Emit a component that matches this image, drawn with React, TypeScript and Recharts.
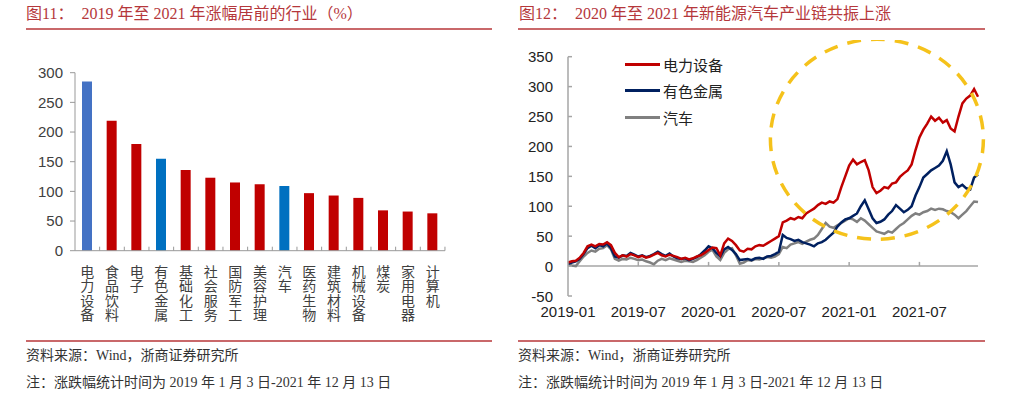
import React from "react";
import {
	Bar,
	BarChart,
	Cell,
	Legend,
	Line,
	LineChart,
	ReferenceDot,
	ReferenceLine,
	XAxis,
	YAxis,
} from "recharts";

// left panel: gain 2019-2021 by industry (%)
const industries = [
	"电力设备", "食品饮料", "电子", "有色金属", "基础化工", "社会服务", "国防军工", "美容护理",
	"汽车", "医药生物", "建筑材料", "机械设备", "煤炭", "家用电器", "计算机",
];
const industryGains = [285, 219, 180, 155, 136, 123, 115, 112, 109, 97, 93, 89, 68, 66, 63];
const barTicks = [0, 50, 100, 150, 200, 250, 300];

// right panel: cumulative gain, ~3 samples per month from 2019-01
const seriesNames = ["电力设备", "有色金属", "汽车"];
const powerEquip = [
	6, 8, 9, 14, 22, 33, 36, 33, 37, 36, 40, 35,
	22, 15, 18, 16, 20, 18, 15, 17, 14, 16, 19, 22,
	18, 16, 19, 17, 15, 12, 14, 11, 13, 16, 18, 22,
	27, 31, 30, 18, 38, 46, 42, 35, 26, 24, 29, 28,
	33, 35, 34, 38, 42, 46, 50, 73, 76, 80, 78, 82,
	80, 88, 92, 96, 102, 106, 104, 108, 106, 112, 132, 150,
	168, 178, 170, 174, 177, 160, 132, 122, 126, 132, 130, 138,
	140, 149, 155, 160, 170, 194, 215, 228, 238, 250, 243, 248,
	240, 244, 230, 225, 250, 272, 280, 285, 296, 283,
];
const nonferrous = [
	4, 6, 8, 12, 20, 30, 34, 30, 35, 33, 38, 30,
	16, 14, 18, 17, 22, 19, 16, 18, 15, 17, 20, 24,
	20, 17, 21, 16, 13, 12, 13, 10, 12, 15, 20, 26,
	33, 30, 22, 16, 28, 32, 27, 20, 10, 11, 12, 10,
	13, 14, 12, 16, 17, 20, 24, 52, 47, 45, 42, 44,
	40, 38, 36, 33, 38, 40, 44, 50, 56, 66, 73, 78,
	80, 84, 88, 100, 110, 95, 80, 72, 74, 78, 86, 92,
	102, 96, 90, 94, 100, 118, 132, 148, 154, 160, 164, 168,
	176, 192, 170, 140, 132, 136, 130, 128, 148, 153,
];
const autos = [
	3, 1, 0, 8, 16, 22, 26, 24, 29, 30, 35, 28,
	12, 9, 12, 11, 14, 12, 10, 11, 8, 6, 3, 9,
	12, 10, 13, 11, 9, 7, 9, 8, 7, 10, 14, 18,
	24, 27, 16, 10, 22, 28, 30, 18, 4, 6, 10, 9,
	12, 11, 13, 15, 14, 16, 20, 32, 30, 36, 38, 40,
	37, 41, 44, 46, 52, 62, 72, 66, 64, 68, 72, 76,
	80, 78, 74, 80, 76, 70, 64, 58, 56, 54, 58, 56,
	62, 68, 72, 78, 84, 88, 86, 90, 92, 96, 94, 96,
	95, 92, 90, 86, 80, 86, 92, 100, 108, 107,
];
const monthTicks = [0, 6, 12, 18, 24, 30];
const monthLabels = ["2019-01", "2019-07", "2020-01", "2020-07", "2021-01", "2021-07"];
const lineTicks = [-50, 0, 50, 100, 150, 200, 250, 300, 350];

const barData = industries.map((name, i) => ({ name, value: industryGains[i] }));
const lineData = powerEquip.map((v, i) => ({
	t: i / 3,
	电力设备: v,
	有色金属: nonferrous[i],
	汽车: autos[i],
}));

const SANS = "'Liberation Sans', Arial, 'Noto Sans CJK SC', sans-serif";
const SERIF = "'Liberation Serif', 'Times New Roman', 'Noto Sans CJK SC', serif";
const lineColors = ["#C00000", "#002060", "#808080"];

function barColor(name: string) {
	if (name === "电力设备") return "#4472C4";
	if (name === "有色金属" || name === "汽车") return "#0070C0";
	return "#C00000";
}

function CategoryTick(props: any) {
	const { x, y, payload } = props;
	const chars = String(payload.value).split("");
	return (
		<g>
			<line x1={x + 12.3} x2={x + 12.3} y1={y} y2={y - 4} stroke="#999" />
			{chars.map((c, i) => (
				<text
					key={i}
					x={x}
					y={y + 21 + i * 14.5}
					textAnchor="middle"
					dominantBaseline="central"
					fontSize={14}
					fill="#404040"
					fontFamily={SANS}
				>
					{c}
				</text>
			))}
		</g>
	);
}

function RightYTick(props: any) {
	const { x, y, payload } = props;
	return (
		<g>
			<line x1={x + 15} x2={x + 19} y1={y} y2={y} stroke="#a6a6a6" strokeWidth={1.5} />
			<text x={x} y={y} textAnchor="end" dominantBaseline="central" fontSize={15} fill="#222" fontFamily={SANS}>
				{payload.value}
			</text>
		</g>
	);
}

function LegendBox() {
	return (
		<div style={{ display: "flex", flexDirection: "column" }}>
			{seriesNames.map((n, i) => (
				<div key={n} style={{ display: "flex", alignItems: "center", height: 26.5 }}>
					<span style={{ display: "inline-block", width: 35, height: 3, background: lineColors[i], marginRight: 3 }} />
					<span style={{ fontSize: 15, color: "#222", fontFamily: SANS }}>{n}</span>
				</div>
			))}
		</div>
	);
}

const titleStyle: React.CSSProperties = {
	position: "absolute",
	fontFamily: SERIF,
	fontSize: 16,
	color: "#B5373B",
	lineHeight: "20px",
	whiteSpace: "pre",
};
const noteStyle: React.CSSProperties = {
	position: "absolute",
	fontFamily: SERIF,
	fontSize: 14,
	color: "#333",
	lineHeight: "16px",
	whiteSpace: "pre",
};
const rule = (left: number, top: number, width: number): React.CSSProperties => ({
	position: "absolute",
	left,
	top,
	width,
	height: 2,
	background: "#C9686A",
});

export default function App() {
	return (
		<div style={{ position: "absolute", left: 0, top: 0, width: 1024, height: 399, background: "#fff", overflow: "hidden" }}>
			<div style={{ ...titleStyle, left: 26, top: 4 }}>图11：  2019 年至 2021 年涨幅居前的行业（%）</div>
			<div style={{ ...titleStyle, left: 519, top: 4 }}>图12：  2020 年至 2021 年新能源汽车产业链共振上涨</div>
			<div style={rule(26, 28, 466)} />
			<div style={rule(518, 28, 467)} />

			<div style={{ position: "absolute", left: 0, top: 50 }}>
				<BarChart width={500} height={290} data={barData} margin={{ top: 22.7, right: 55, bottom: 9.3, left: 0 }}>
					<YAxis
						domain={[0, 300]}
						ticks={barTicks}
						width={75}
						axisLine={{ stroke: "#999" }}
						tickLine={{ stroke: "#999" }}
						tickSize={5}
						tickMargin={7}
						tick={{ fontSize: 15, fill: "#404040", fontFamily: SANS }}
					/>
					<XAxis
						dataKey="name"
						height={80}
						interval={0}
						axisLine={{ stroke: "#999" }}
						tickLine={false}
						tickSize={0}
						tickMargin={0}
						tick={<CategoryTick />}
					/>
					<Bar dataKey="value" barSize={10} isAnimationActive={false}>
						{barData.map((d) => (
							<Cell key={d.name} fill={barColor(d.name)} />
						))}
					</Bar>
				</BarChart>
			</div>

			<div style={{ position: "absolute", left: 512, top: 40 }}>
				<LineChart width={500} height={300} data={lineData} margin={{ top: 16.7, right: 34, bottom: 14, left: 0 }}>
					<XAxis
						type="number"
						dataKey="t"
						domain={[0, 35]}
						ticks={monthTicks}
						tickFormatter={(v: number) => monthLabels[monthTicks.indexOf(v)] ?? ""}
						height={30}
						axisLine={false}
						tickLine={false}
						tickSize={0}
						tickMargin={10}
						tick={{ fontSize: 15, fill: "#222", fontFamily: SANS }}
					/>
					<YAxis
						domain={[-50, 350]}
						ticks={lineTicks}
						width={56}
						axisLine={{ stroke: "#a6a6a6", strokeWidth: 1.5 }}
						tickLine={false}
						tickSize={0}
						tickMargin={15}
						tick={<RightYTick />}
					/>
					<ReferenceLine y={0} stroke="#a6a6a6" strokeWidth={1.5} />
					{monthTicks.slice(1).map((m) => (
						<ReferenceLine
							key={m}
							segment={[{ x: m, y: 0 }, { x: m, y: 7 }]}
							stroke="#a6a6a6"
							strokeWidth={1.5}
						/>
					))}
					<Line type="linear" dataKey="汽车" stroke={lineColors[2]} strokeWidth={2.5} dot={false} isAnimationActive={false} />
					<Line type="linear" dataKey="有色金属" stroke={lineColors[1]} strokeWidth={2.5} dot={false} isAnimationActive={false} />
					<Line type="linear" dataKey="电力设备" stroke={lineColors[0]} strokeWidth={2.5} dot={false} isAnimationActive={false} />
					<ReferenceDot
						x={26.37}
						y={212}
						r={0}
						ifOverflow="visible"
						shape={(p: any) => (
							<ellipse cx={p.cx} cy={p.cy} rx={106.5} ry={100} fill="none" stroke="#F5C21B" strokeWidth={3.5} strokeDasharray="14 10" />
						)}
					/>
					<Legend
						layout="vertical"
						align="center"
						verticalAlign="middle"
						content={<LegendBox />}
						wrapperStyle={{ left: 113, top: 11, width: "auto", height: "auto" }}
					/>
				</LineChart>
			</div>

			<div style={rule(26, 340, 466)} />
			<div style={rule(518, 340, 467)} />
			<div style={{ ...noteStyle, left: 26, top: 348 }}>资料来源：Wind，浙商证券研究所</div>
			<div style={{ ...noteStyle, left: 26, top: 375 }}>注：涨跌幅统计时间为 2019 年 1 月 3 日-2021 年 12 月 13 日</div>
			<div style={{ ...noteStyle, left: 518, top: 348 }}>资料来源：Wind，浙商证券研究所</div>
			<div style={{ ...noteStyle, left: 518, top: 375 }}>注：涨跌幅统计时间为 2019 年 1 月 3 日-2021 年 12 月 13 日</div>
		</div>
	);
}
